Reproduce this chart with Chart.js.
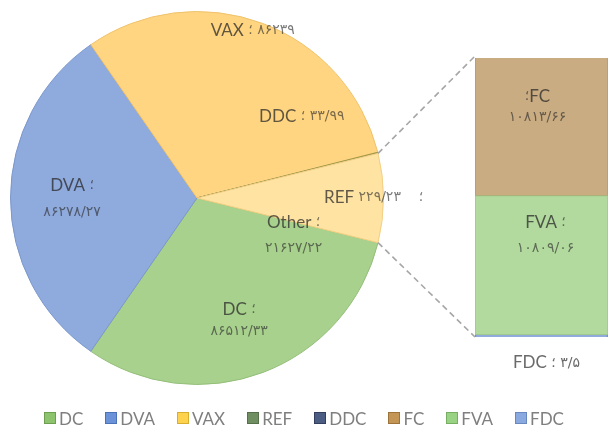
<!DOCTYPE html>
<html><head><meta charset="utf-8">
<script src="https://cdn.jsdelivr.net/npm/chart.js@4"></script>
<style>
html,body{margin:0;padding:0;background:#fff;}
#wrap{position:relative;width:608px;height:442px;overflow:hidden;background:#fff;}
#wrap canvas{position:absolute;left:0;top:0;}
#legend{position:absolute;left:0;top:406px;width:608px;height:24px;display:flex;justify-content:center;align-items:center;font:17px Lato,'DejaVu Sans',sans-serif;color:#7F7F7F;}
.item{display:flex;align-items:center;margin:0 11px;white-space:nowrap;}
.box{width:10px;height:10px;margin-right:3px;border:1px solid;}
</style></head><body>
<div id="wrap"><canvas id="pie" width="608" height="442"></canvas><canvas id="bar" width="608" height="442"></canvas><div id="legend"></div></div>
<script>
// ---- data ----
const pieCategories = ['DC', 'DVA', 'VAX', 'REF', 'DDC', 'Other'];
const pieValues = [86512.33, 86278.27, 86239, 229.23, 33.99, 21627.22];
const barCategories = ['FDC', 'FVA', 'FC'];        // stacked bottom -> top
const barValues = [3.5, 10809.06, 10813.66];
const legendCategories = ['DC', 'DVA', 'VAX', 'REF', 'DDC', 'FC', 'FVA', 'FDC'];

// ---- styles ----
const fillC = {DC:'#A9D18E', DVA:'#8FAADC', VAX:'#FFD581', REF:'#A39A45', DDC:'#8C8A50', Other:'#FFE3A2', FC:'#C9AC82', FVA:'#B2D99E', FDC:'#8FAADC'};
const edgeC = {DC:'#94BE79', DVA:'#7B97CB', VAX:'#EFC26C', REF:'#A39A45', DDC:'#8C8A50', Other:'#F2CF82', FC:'#B8976A', FVA:'#9CC786', FDC:'#6F90D2'};
const legFill = {DC:'#8CC36C', DVA:'#6A93DA', VAX:'#FFD24E', REF:'#6F8F60', DDC:'#4B5D82', FC:'#C39656', FVA:'#9AD283', FDC:'#8AA9E0'};
const legEdge = {DC:'#6E9E52', DVA:'#4C73B8', VAX:'#D8AE30', REF:'#55704A', DDC:'#333F5C', FC:'#9C733A', FVA:'#78AE62', FDC:'#6A88C0'};

const NAME_FONT = '17px Lato, "DejaVu Sans", sans-serif';
const NUM_FONT = '14px "DejaVu Sans", sans-serif';
const NAME_COL = 'rgba(40,40,40,0.74)';
const NUM_COL = 'rgba(40,40,40,0.62)';

const FA = '۰۱۲۳۴۵۶۷۸۹';
const toFa = v => String(v).replace('.', '/').replace(/\d/g, d => FA[+d]);
const SEMI = '؛';

function drawSegs(ctx, segs, cx, cy) {
  let total = 0;
  segs.forEach(s => { ctx.font = s.font; s.w = ctx.measureText(s.t).width; total += s.w; });
  let x = cx - total / 2;
  ctx.textAlign = 'left'; ctx.textBaseline = 'middle'; ctx.direction = 'ltr';
  segs.forEach(s => { ctx.font = s.font; ctx.fillStyle = s.color; ctx.fillText(s.t, x, cy); x += s.w; });
}
const nm = t => ({t, font: NAME_FONT, color: NAME_COL});
const nu = t => ({t, font: NUM_FONT, color: NUM_COL});

// label placement around pie centre (angle deg from 3 o'clock, fraction of radius, line gap)
const pieLabelPos = {
  DC: {a: 71, r: 0.695, gap: 22},
  DVA: {a: 179.5, r: 0.67, gap: 27},
  VAX: {a: -71.6, r: 0.947},
  REF: {a: -0.3, r: 0.947},
  DDC: {a: -38, r: 0.713},
  Other: {a: 21, r: 0.555, gap: 26}
};
function pieLabelLines(name, v) {
  const n = toFa(v);
  if (name === 'VAX' || name === 'DDC') return [[nm(name), nu(' ' + SEMI + ' '), nu(n)]];
  if (name === 'REF') return [[nm(name), nu(' ' + n), nu('    ' + SEMI)]];
  return [[nm(name), nu(' ' + SEMI)], [nu(n)]];
}

const pieLabels = {
  id: 'pieLabels',
  afterDatasetsDraw(chart) {
    const ctx = chart.ctx;
    const arc0 = chart.getDatasetMeta(0).data[0];
    const {x, y, outerRadius} = arc0.getProps(['x', 'y', 'outerRadius'], true);
    ctx.save();
    pieCategories.forEach((name, i) => {
      const p = pieLabelPos[name];
      const a = p.a * Math.PI / 180;
      const cx = x + Math.cos(a) * outerRadius * p.r;
      const cy = y + Math.sin(a) * outerRadius * p.r;
      const lines = pieLabelLines(name, pieValues[i]);
      if (lines.length === 1) drawSegs(ctx, lines[0], cx, cy);
      else { drawSegs(ctx, lines[0], cx, cy - p.gap / 2); drawSegs(ctx, lines[1], cx, cy + p.gap / 2); }
    });
    ctx.restore();
  }
};

const otherAngle = pieValues[5] / pieValues.reduce((a, b) => a + b, 0) * 360;

const pieChart = new Chart(document.getElementById('pie'), {
  type: 'pie',
  data: {
    labels: pieCategories,
    datasets: [{
      data: pieValues,
      backgroundColor: pieCategories.map(c => fillC[c]),
      borderColor: pieCategories.map(c => edgeC[c]),
      borderWidth: 1
    }]
  },
  options: {
    responsive: false, animation: false,
    rotation: 90 + otherAngle / 2,
    layout: {padding: {left: 10, top: 11, right: 224, bottom: 57}},
    plugins: {legend: {display: false}, tooltip: {enabled: false}}
  },
  plugins: [pieLabels]
});

// ---- bar of pie ----
const barLabelPos = {
  FC: {dx: -4, d1: 40, d2: 61},
  FVA: {dx: 4, d1: 27, d2: 53},
  FDC: {dx: 5, below: 26}
};
const barOverlay = {
  id: 'barOverlay',
  afterDatasetsDraw(chart) {
    const ctx = chart.ctx;
    // connectors
    const arc = pieChart.getDatasetMeta(0).data[5];
    const {x, y, startAngle, endAngle, outerRadius} = arc.getProps(['x', 'y', 'startAngle', 'endAngle', 'outerRadius'], true);
    const topEl = chart.getDatasetMeta(2).data[0].getProps(['x', 'y', 'base', 'width'], true);
    const botEl = chart.getDatasetMeta(0).data[0].getProps(['x', 'y', 'base', 'width'], true);
    const left = topEl.x - topEl.width / 2;
    ctx.save();
    ctx.strokeStyle = '#A6A6A6'; ctx.lineWidth = 1.6; ctx.setLineDash([6, 4]);
    ctx.beginPath();
    ctx.moveTo(x + outerRadius * Math.cos(startAngle), y + outerRadius * Math.sin(startAngle));
    ctx.lineTo(left, topEl.y);
    ctx.moveTo(x + outerRadius * Math.cos(endAngle), y + outerRadius * Math.sin(endAngle));
    ctx.lineTo(left, botEl.base);
    ctx.stroke();
    ctx.setLineDash([]);
    // labels
    barCategories.forEach((name, i) => {
      const el = chart.getDatasetMeta(i).data[0].getProps(['x', 'y', 'base'], true);
      const p = barLabelPos[name];
      const n = toFa(barValues[i]);
      if (name === 'FDC') {
        drawSegs(ctx, [{t: name, font: NAME_FONT, color: '#6A6A6A'}, {t: ' ' + SEMI + ' ', font: NUM_FONT, color: '#6A6A6A'}, {t: n, font: NUM_FONT, color: '#6A6A6A'}], el.x + p.dx, el.base + p.below);
      } else {
        const top = Math.min(el.y, el.base);
        const l1 = name === 'FC' ? [nu(SEMI), nm(name)] : [nm(name), nu(' ' + SEMI)];
        drawSegs(ctx, l1, el.x + p.dx, top + p.d1);
        drawSegs(ctx, [nu(n)], el.x + p.dx, top + p.d2);
      }
    });
    ctx.restore();
  }
};

new Chart(document.getElementById('bar'), {
  type: 'bar',
  data: {
    labels: ['Other'],
    datasets: barCategories.map((c, i) => ({
      label: c,
      data: [barValues[i]],
      backgroundColor: fillC[c],
      borderColor: edgeC[c],
      borderWidth: 1,
      borderSkipped: false,
      minBarLength: c === 'FDC' ? 2 : 0,
      barPercentage: 1, categoryPercentage: 1
    }))
  },
  options: {
    responsive: false, animation: false,
    layout: {padding: {left: 475, top: 58, right: 0, bottom: 105}},
    scales: {
      x: {display: false, stacked: true},
      y: {display: false, stacked: true, min: 0, max: barValues.reduce((a, b) => a + b, 0)}
    },
    plugins: {legend: {display: false}, tooltip: {enabled: false}}
  },
  plugins: [barOverlay]
});

// ---- legend ----
const leg = document.getElementById('legend');
legendCategories.forEach(c => {
  const it = document.createElement('div'); it.className = 'item';
  const b = document.createElement('span'); b.className = 'box';
  b.style.background = legFill[c]; b.style.borderColor = legEdge[c];
  const t = document.createElement('span'); t.textContent = c;
  it.appendChild(b); it.appendChild(t); leg.appendChild(it);
});
</script>
</body></html>
